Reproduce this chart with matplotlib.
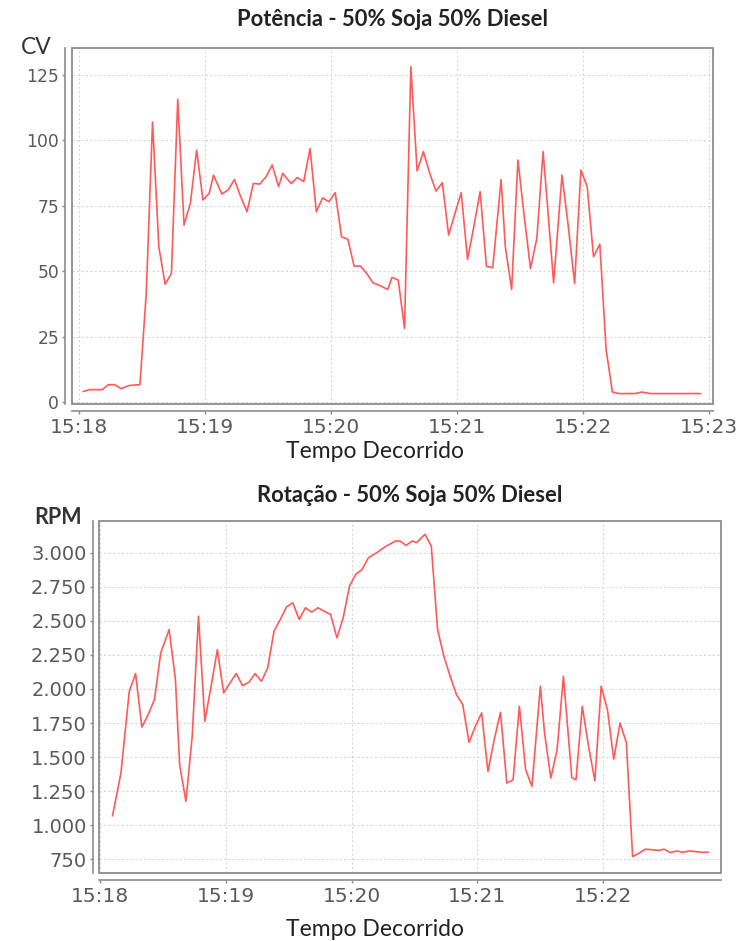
import matplotlib
matplotlib.use("Agg")
import matplotlib.pyplot as plt
from matplotlib.patches import Rectangle

# ---------------- data (time in seconds after 15:18:00) ----------------
tempo_potencia = [2, 5, 11, 14, 17, 20, 24, 29, 32, 35, 38, 41, 44, 47, 50, 53, 56, 59, 62, 64,
                  68, 71, 74, 77, 80, 83, 86, 89, 92, 95, 97, 101, 104, 107, 110, 113, 116, 119, 122, 125,
                  128, 131, 134, 137, 140, 143, 147, 149, 152, 155, 158, 161, 164, 167, 170, 173, 176, 179, 182, 185,
                  188, 191, 194, 197, 201, 203, 206, 209, 212, 215, 218, 221, 224, 226, 230, 233, 236, 239, 242, 245,
                  248, 251, 254, 257, 261, 265, 268, 272, 276, 280, 284, 288, 292, 296]
potencia_cv = [4.0, 4.7, 4.7, 6.6, 6.6, 5.1, 6.3, 6.6, 41.5, 107.0, 59.3, 45.0, 49.1, 115.7, 67.6, 75.9, 96.3, 77.2, 79.7, 86.7,
               79.5, 81.0, 85.0, 78.4, 72.7, 83.5, 83.3, 86.0, 90.6, 82.3, 87.4, 83.5, 85.8, 84.2, 96.9, 72.7, 78.0, 76.5, 80.0, 63.1,
               62.2, 51.9, 52.0, 49.1, 45.5, 44.6, 43.0, 47.6, 46.6, 28.1, 128.2, 88.3, 95.7, 87.4, 80.6, 83.8, 63.8, 72.0, 80.0, 54.5,
               67.0, 80.4, 51.9, 51.3, 85.0, 59.3, 43.0, 92.5, 71.0, 51.0, 62.5, 95.7, 65.7, 45.5, 86.7, 67.0, 45.3, 88.6, 82.3, 55.5,
               60.3, 20.0, 3.8, 3.2, 3.2, 3.2, 3.8, 3.2, 3.2, 3.2, 3.2, 3.2, 3.2, 3.2]

tempo_rotacao = [6, 10, 14, 17, 20, 23, 26, 29, 33, 36, 38, 41, 44, 47, 50, 53, 56, 59, 62, 65,
                 68, 71, 74, 77, 80, 83, 86, 89, 92, 95, 98, 101, 104, 106, 110, 113, 116, 119, 122, 125,
                 128, 132, 136, 141, 143, 146, 149, 151, 155, 158, 161, 164, 167, 170, 173, 176, 179, 182, 185, 188,
                 191, 194, 197, 200, 203, 206, 210, 212, 215, 218, 221, 225, 227, 230, 233, 236, 239, 242, 245, 248,
                 251, 254, 257, 260, 264, 266, 269, 272, 275, 278, 281, 284, 287, 290]
rotacao_rpm = [1069, 1382, 1983, 2113, 1721, 1811, 1922, 2265, 2436, 2069, 1444, 1174, 1652, 2534, 1762, 2020, 2289, 1971, 2044, 2113,
               2024, 2049, 2113, 2056, 2154, 2424, 2510, 2603, 2632, 2510, 2596, 2564, 2596, 2578, 2547, 2375, 2522, 2755, 2841, 2877,
               2963, 3000, 3044, 3086, 3086, 3054, 3086, 3074, 3135, 3049, 2436, 2240, 2093, 1958, 1885, 1608, 1725, 1824, 1395, 1627,
               1829, 1309, 1333, 1873, 1407, 1284, 2020, 1677, 1346, 1554, 2093, 1350, 1333, 1873, 1578, 1326, 2020, 1848, 1485, 1750,
               1608, 770, 794, 824, 819, 814, 824, 799, 811, 801, 811, 806, 801, 801]

x_ticks_s = [0, 60, 120, 180, 240, 300]
x_tick_labels = ["15:18", "15:19", "15:20", "15:21", "15:22", "15:23"]
cv_ticks = [0, 25, 50, 75, 100, 125]
rpm_ticks = [750, 1000, 1250, 1500, 1750, 2000, 2250, 2500, 2750, 3000]
rpm_tick_labels = ["750", "1.000", "1.250", "1.500", "1.750", "2.000", "2.250", "2.500", "2.750", "3.000"]

titulo_potencia = "Potência - 50% Soja 50% Diesel"
titulo_rotacao = "Rotação - 50% Soja 50% Diesel"
rotulo_x = "Tempo Decorrido"

# ---------------- layout ----------------
W, H = 738, 941
fig = plt.figure(figsize=(W / 100, H / 100), dpi=100)
fig.patch.set_facecolor("white")


def box(l, t, r, b):
    return [l / W, 1 - b / H, (r - l) / W, (b - t) / H]


def fxy(x, y):
    return x / W, 1 - y / H


LINE = "#ff5a5a"
AXC = "#8c8c8c"
TICKC = "#5a5a5a"
GRIDC = "#d8d8d8"
TFONT = ["Lato", "DejaVu Sans"]


def style(ax, ysize):
    for s in ("top", "right"):
        ax.spines[s].set_visible(False)
    for s in ("left", "bottom"):
        ax.spines[s].set_position(("outward", 4.5))
        ax.spines[s].set_color(AXC)
        ax.spines[s].set_linewidth(1.2)
    ax.add_patch(Rectangle((0, 0), 1, 1, transform=ax.transAxes, fill=False,
                           edgecolor=AXC, lw=1.3, clip_on=False, zorder=5))
    ax.grid(True, color=GRIDC, linestyle=(0, (2, 2)), linewidth=0.8)
    ax.set_axisbelow(True)
    ax.tick_params(axis="both", direction="out", length=2.5, width=1, color=AXC,
                   labelcolor=TICKC)
    ax.tick_params(axis="x", labelsize=14.5, pad=3)
    ax.tick_params(axis="y", labelsize=ysize, pad=2)


# top chart
ax1 = fig.add_axes(box(71.7, 48, 713, 404.3))
ax1.plot(tempo_potencia, potencia_cv, color=LINE, lw=1.2)
ax1.set_xlim(-3.5, 301.9)
ax1.set_ylim(-0.9, 135.3)
ax1.set_xticks(x_ticks_s)
ax1.set_xticklabels(x_tick_labels)
ax1.set_yticks(cv_ticks)
style(ax1, 12.3)

# bottom chart
ax2 = fig.add_axes(box(99.3, 520.7, 720.7, 873.3))
ax2.plot(tempo_rotacao, rotacao_rpm, color=LINE, lw=1.2)
ax2.set_xlim(-0.3, 296.0)
ax2.set_ylim(647, 3235)
ax2.set_xticks(x_ticks_s[:5])
ax2.set_xticklabels(x_tick_labels[:5])
ax2.set_yticks(rpm_ticks)
ax2.set_yticklabels(rpm_tick_labels)
style(ax2, 14)

# texts
fig.text(*fxy(393, 20), titulo_potencia, family=TFONT, weight="bold", fontsize=15.8,
         ha="center", va="center", color="#222222")
fig.text(*fxy(410, 495), titulo_rotacao, family=TFONT, weight="bold", fontsize=15.8,
         ha="center", va="center", color="#222222")
fig.text(*fxy(375, 452), rotulo_x, family=TFONT, fontsize=16.5, ha="center", va="center",
         color="#222222")
fig.text(*fxy(375, 930), rotulo_x, family=TFONT, fontsize=16.5, ha="center", va="center",
         color="#222222")
fig.text(*fxy(36, 47), "CV", family=TFONT, fontsize=16.5, ha="center", va="center",
         color="#333333")
fig.text(*fxy(58, 517), "RPM", family=TFONT, weight="bold", fontsize=15.5, ha="center",
         va="center", color="#333333")

fig.savefig("out.png", dpi=100)
